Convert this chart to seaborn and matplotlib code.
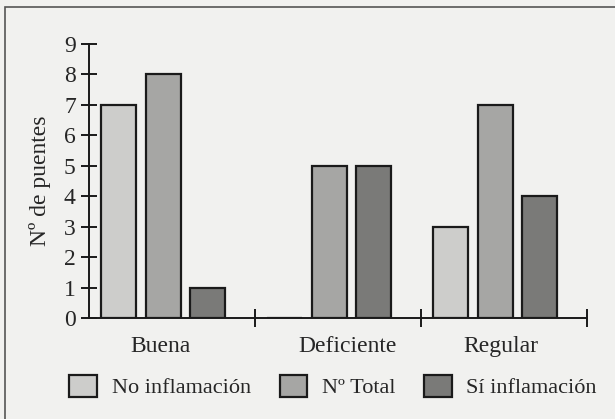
import pandas as pd
import matplotlib.pyplot as plt
import seaborn as sns
from matplotlib.patches import Rectangle

# data
estados = ["Buena", "Deficiente", "Regular"]
series = ["No inflamación", "Nº Total", "Sí inflamación"]
no_inflamacion = [7, 0, 3]
n_total = [8, 5, 7]
si_inflamacion = [1, 5, 4]

df = pd.DataFrame({
    "estado": estados * 3,
    "serie": [series[0]] * 3 + [series[1]] * 3 + [series[2]] * 3,
    "n": no_inflamacion + n_total + si_inflamacion,
})

sns.set_style("white")
plt.rcParams["font.family"] = ["Liberation Serif", "DejaVu Serif"]
bg = "#f1f1ef"
colores = ["#cdcdcb", "#a6a6a4", "#7a7a78"]

fig = plt.figure(figsize=(6.15, 4.19), dpi=100, facecolor=bg)
ax = fig.add_axes([0.1447, 0.241, 0.81, 0.654], facecolor=bg)

sns.barplot(data=df, x="estado", y="n", hue="serie", hue_order=series,
            palette=colores, saturation=1, width=0.81, gap=0.22,
            edgecolor="#1a1a1a", linewidth=1.6, ax=ax, legend=True)

# groups sit a bit left of the category centre in the original
for p in ax.patches:
    p.set_x(p.get_x() - 0.054)

ax.set_xlim(-0.5, 2.5)
ax.set_ylim(0, 9)
ax.set_yticks(range(10))
ax.set_xticks([0.5, 1.5, 2.5])
ax.set_xticklabels([])
ax.set_xticks([-0.07, 1.06, 1.98], minor=True)
ax.set_xticklabels(estados, minor=True, fontsize=17)
ax.tick_params(axis="x", which="minor", bottom=True, length=0, pad=13)
ax.tick_params(axis="x", which="major", bottom=True, direction="inout",
               length=13, width=1.4, color="#1a1a1a")
ax.tick_params(axis="y", left=True, direction="inout", length=11, width=1.4,
               color="#1a1a1a", labelsize=17, pad=4)
ax.set_xlabel("")
ax.set_ylabel("Nº de puentes", fontsize=17, labelpad=9)

for s in ["top", "right"]:
    ax.spines[s].set_visible(False)
for s in ["left", "bottom"]:
    ax.spines[s].set_linewidth(1.4)
    ax.spines[s].set_color("#1a1a1a")

sns.move_legend(ax, "center", bbox_to_anchor=(0.49, -0.25), ncol=3,
                frameon=False, title=None, fontsize=16, handlelength=1.25,
                handleheight=1.2, handletextpad=0.65, columnspacing=1.3)
for h in ax.get_legend().legend_handles:
    h.set_edgecolor("#1a1a1a")
    h.set_linewidth(1.6)

# scan border
fig.patches.append(Rectangle((0.008, -0.1), 1.2, 1.083, transform=fig.transFigure,
                             fill=False, edgecolor="#555555", linewidth=1.2))

fig.savefig("out.png", dpi=100, facecolor=bg)
